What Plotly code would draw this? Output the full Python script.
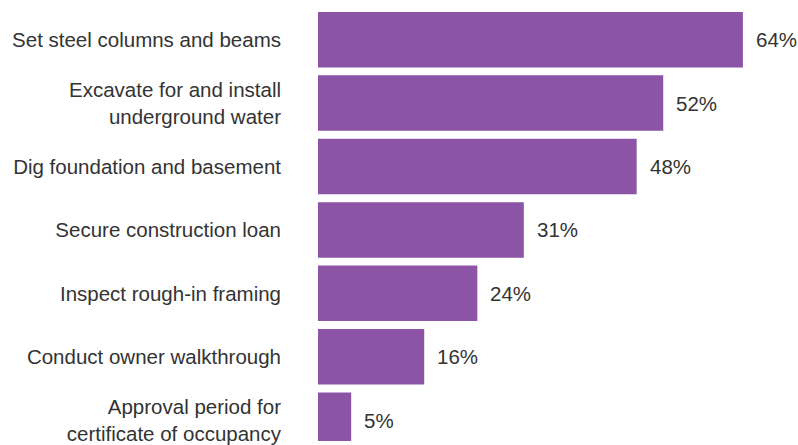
import plotly.graph_objects as go

# Share of projects reporting a delay at each construction step
tasks = [
    "Set steel columns and beams",
    "Excavate for and install<br>underground water",
    "Dig foundation and basement",
    "Secure construction loan",
    "Inspect rough-in framing",
    "Conduct owner walkthrough",
    "Approval period for<br>certificate of occupancy",
]
shares = [64, 52, 48, 31, 24, 16, 5]
share_labels = [f"{v}%" for v in shares]

BAR_COLOR = "#8B54A5"
TEXT_COLOR = "#333333"
FONT = "Liberation Sans, Arial, sans-serif"
FONT_SIZE = 20.5

fig = go.Figure(
    go.Bar(
        x=shares,
        y=tasks,
        orientation="h",
        marker=dict(color=BAR_COLOR, line=dict(width=0)),
        width=0.875,
        hoverinfo="skip",
    )
)

# value labels just past the end of each bar
for task, v, lab in zip(tasks, shares, share_labels):
    fig.add_annotation(
        x=v, y=task, text=lab, showarrow=False,
        xanchor="left", yanchor="middle", xshift=11,
        font=dict(family=FONT, size=FONT_SIZE, color=TEXT_COLOR),
    )

fig.update_layout(
    width=798,
    height=445,
    margin=dict(l=318, r=0, t=0, b=0),
    paper_bgcolor="white",
    plot_bgcolor="white",
    showlegend=False,
    font=dict(family=FONT, size=FONT_SIZE, color=TEXT_COLOR),
    xaxis=dict(
        range=[0, 72.3],
        visible=False,
        showgrid=False,
        zeroline=False,
    ),
    yaxis=dict(
        type="category",
        range=[6.328, -0.625],
        showgrid=False,
        zeroline=False,
        showline=False,
        ticks="",
        ticklabelstandoff=36,
        tickfont=dict(family=FONT, size=FONT_SIZE, color=TEXT_COLOR),
    ),
)

fig.write_html("out.html")
